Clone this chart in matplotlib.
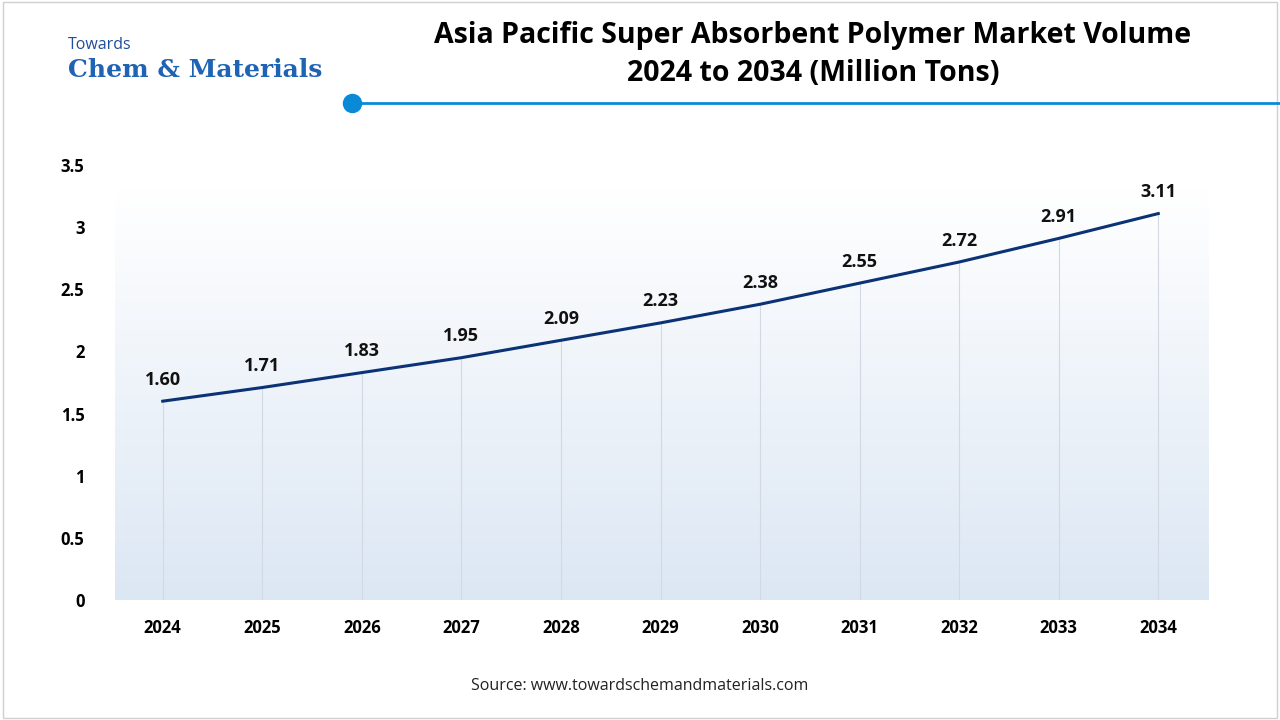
import numpy as np
import matplotlib
matplotlib.use("Agg")
from matplotlib import pyplot as plt
from matplotlib.patches import Rectangle

years = [2024, 2025, 2026, 2027, 2028, 2029, 2030, 2031, 2032, 2033, 2034]
volume = [1.60, 1.71, 1.83, 1.95, 2.09, 2.23, 2.38, 2.55, 2.72, 2.91, 3.11]
yticks = [0, 0.5, 1, 1.5, 2, 2.5, 3, 3.5]
ytick_labels = ['0', '0.5', '1', '1.5', '2', '2.5', '3', '3.5']

line_color = '#0b3275'
plt.rcParams['font.family'] = 'Open Sans'

fig = plt.figure(figsize=(12.8, 7.2), dpi=100)
fig.patches.append(Rectangle((0.002, 0.003), 0.996, 0.994, transform=fig.transFigure,
                             fill=False, edgecolor='#d0d0d0', lw=1))

ax = fig.add_axes([0.0898, 0.1667, 0.854, 0.604])
ax.set_xlim(2023.52, 2034.5)
ax.set_ylim(0, 3.5)

# gradient background
grad = np.linspace(0, 1, 256).reshape(-1, 1)
cmap = matplotlib.colors.LinearSegmentedColormap.from_list('bg', ['#dce7f4', '#ffffff'])
ax.imshow(grad, extent=[2023.52, 2034.5, 0, 3.3], origin='lower', aspect='auto',
          cmap=cmap, zorder=0)

for x, y in zip(years, volume):
    ax.plot([x, x], [0, y], color='#d3d9e2', lw=0.8, zorder=1)
ax.plot(years, volume, color=line_color, lw=2.2, zorder=3)
for x, y in zip(years, volume):
    ax.text(x, y + 0.1, f"{y:.2f}", ha='center', va='bottom', fontsize=13,
            fontweight='bold', color='#111111')

for s in ax.spines.values():
    s.set_visible(False)
ax.set_xticks(years)
ax.set_xticklabels([str(y) for y in years], fontsize=12, fontweight='bold')
ax.set_yticks(yticks)
ax.set_yticklabels(ytick_labels, fontsize=12, fontweight='bold')
ax.tick_params(length=0, pad=14)
ax.tick_params(axis='y', pad=22)

# title and header
fig.text(0.635, 0.951, 'Asia Pacific Super Absorbent Polymer Market Volume',
         ha='center', va='center', fontsize=20.5, fontweight='bold')
fig.text(0.635, 0.898, '2024 to 2034 (Million Tons)',
         ha='center', va='center', fontsize=20.5, fontweight='bold')
fig.add_artist(plt.Line2D([0.275, 1.0], [0.857, 0.857], color='#0a8ad6', lw=2,
                          transform=fig.transFigure))
fig.add_artist(plt.Line2D([0.275], [0.857], marker='o', markersize=13, color='#0a8ad6',
                          transform=fig.transFigure))

# logo
fig.text(0.053, 0.937, 'Towards', fontsize=11.5, color='#1f4e9a', va='center')
fig.text(0.053, 0.903, 'Chem & Materials', fontsize=18, color='#1f63b5', va='center',
         family='DejaVu Serif', fontweight='bold')

fig.text(0.5, 0.047, 'Source: www.towardschemandmaterials.com', ha='center',
         va='center', fontsize=11.5, color='#222222')

fig.savefig('out.png', dpi=100, facecolor='white')
